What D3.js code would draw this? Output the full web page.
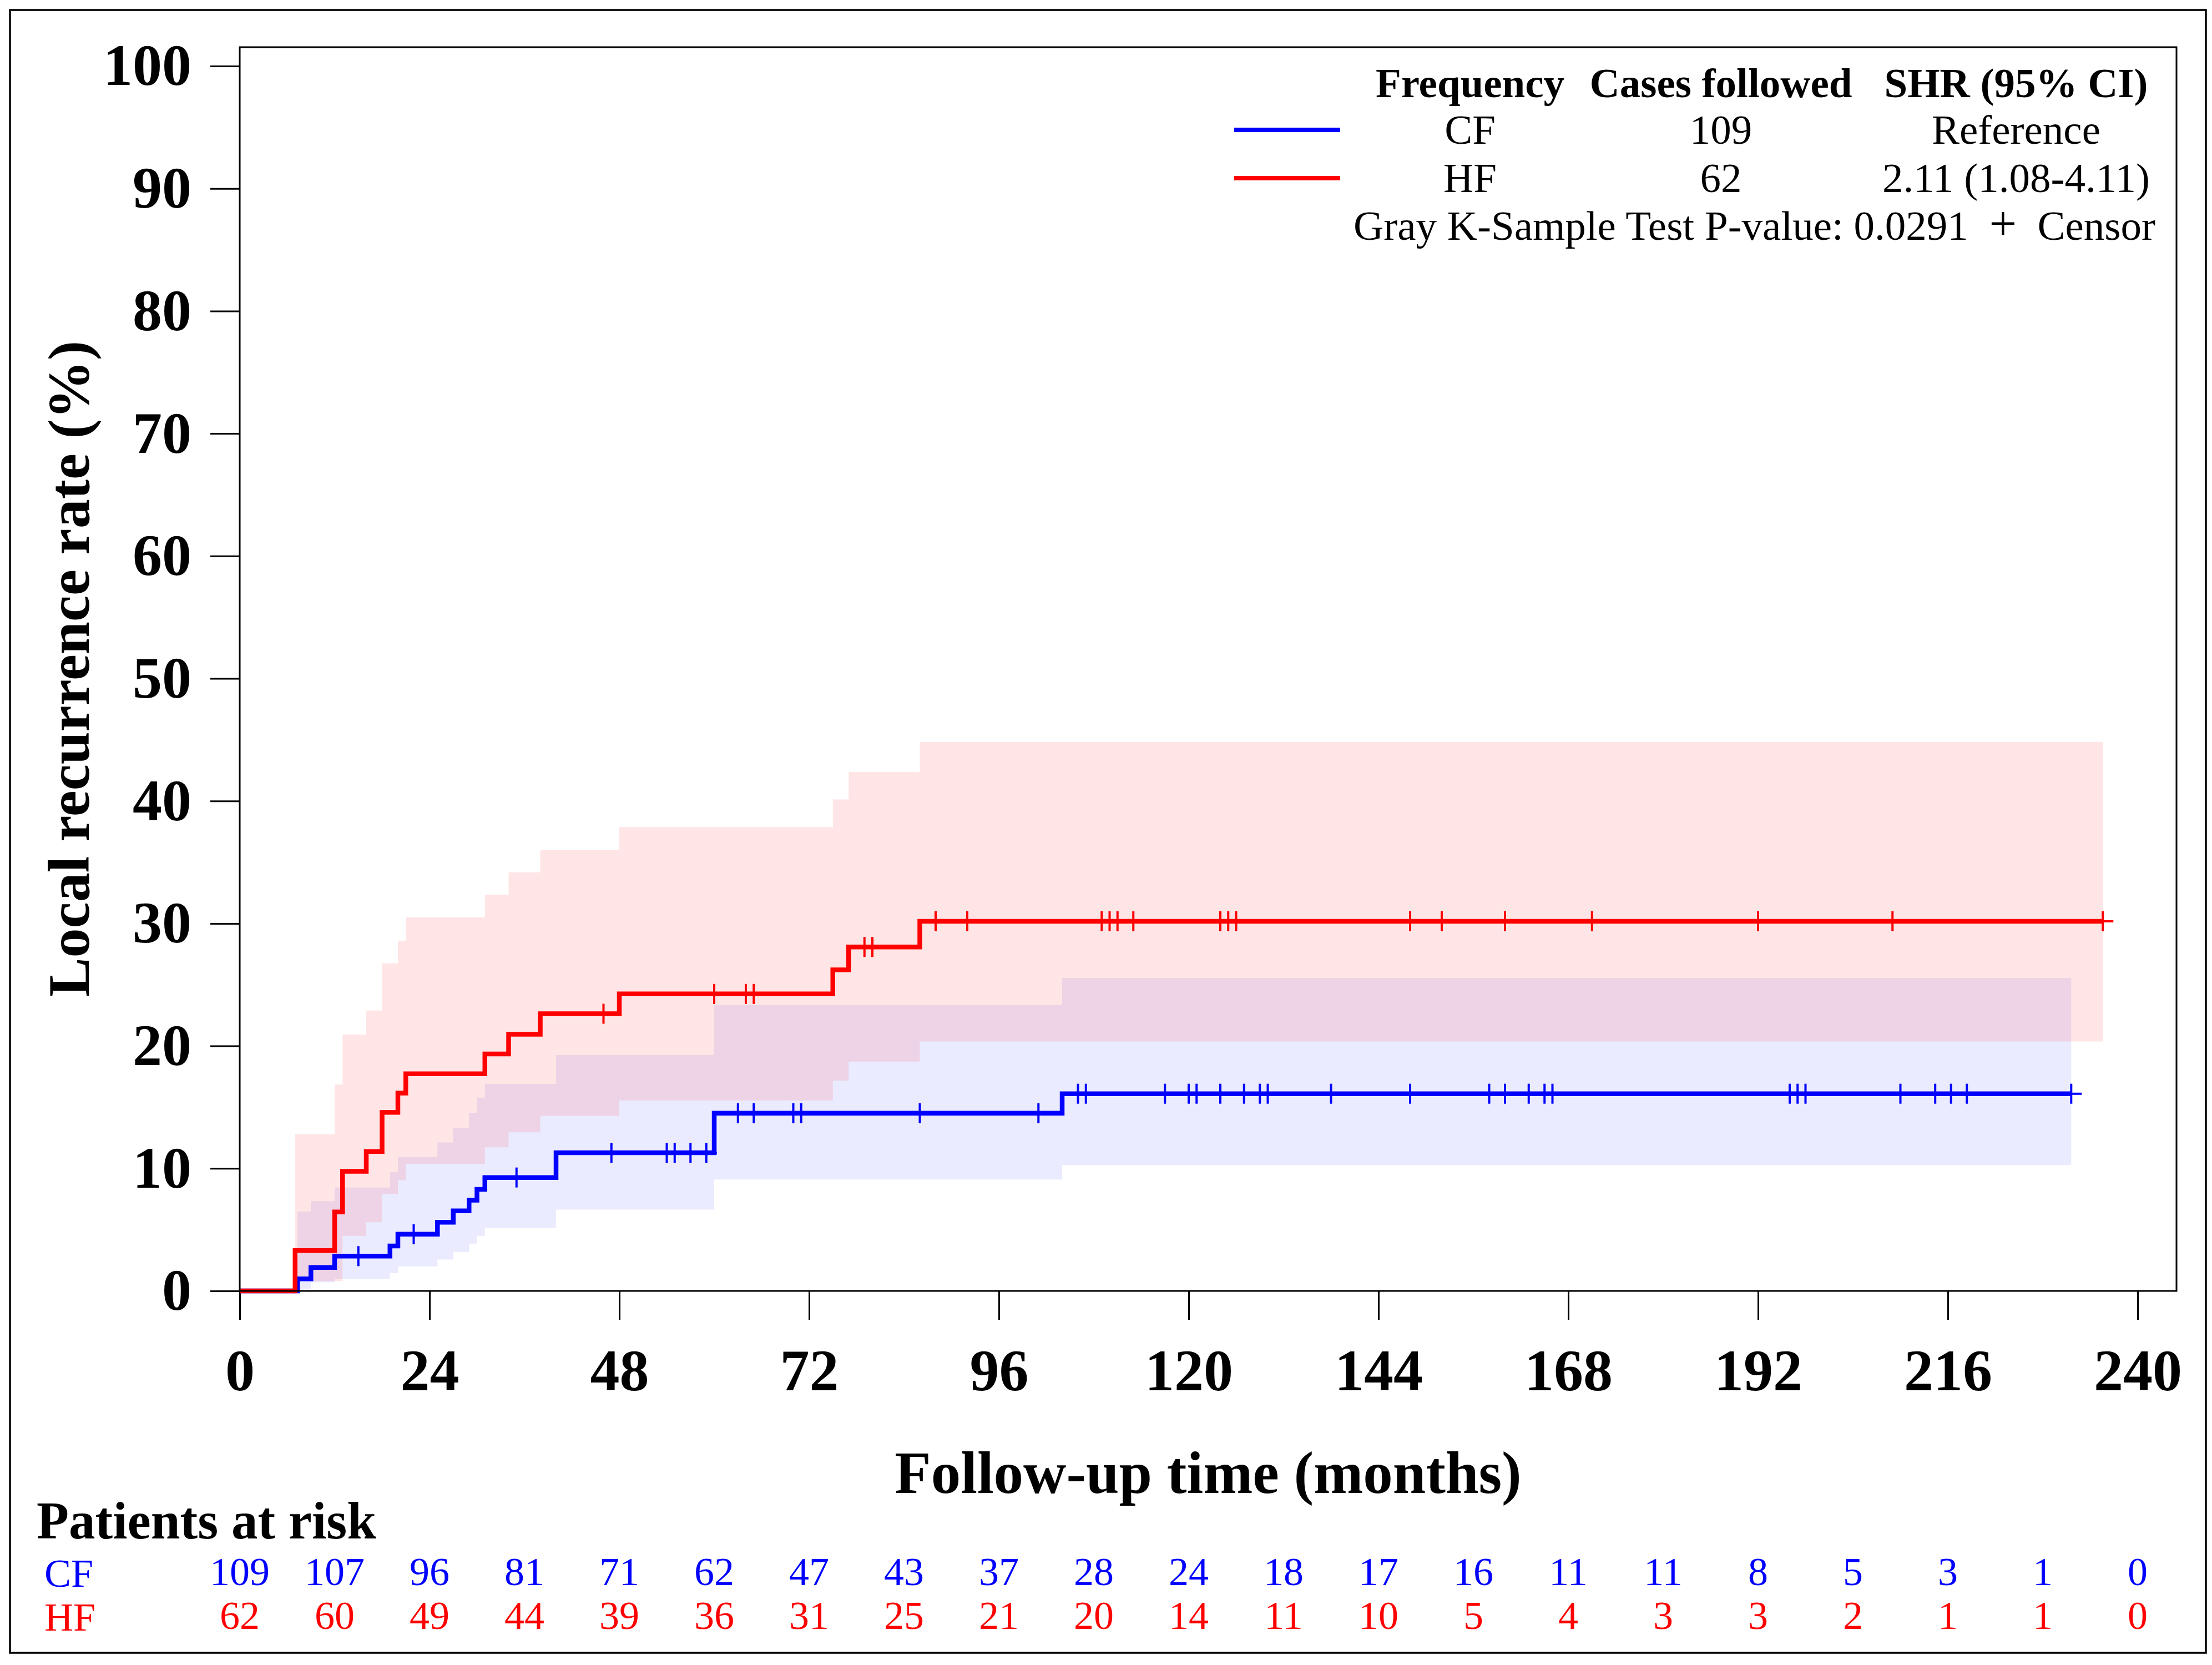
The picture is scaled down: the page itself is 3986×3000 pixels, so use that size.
<!DOCTYPE html>
<html lang="en">
<head>
<meta charset="utf-8">
<title>Local recurrence rate: CF vs HF</title>
<script src="https://cdn.jsdelivr.net/npm/d3@7/dist/d3.min.js"></script>
<style>
    body {
        margin: 0;
        background: #fff;
    }
    text {
        font-family: "Liberation Serif", "Times New Roman", serif;
    }
    .axis text {
        font-size: 106px;
        font-weight: bold;
        fill: #000;
    }
    .axis line {
        stroke: #000;
        stroke-width: 3;
    }
    .legend text {
        font-size: 75px;
        fill: #000;
    }
    .risk text {
        font-size: 72px;
    }
</style>
</head>
<body>
<svg id="chart"></svg>
<script>

    // cumulative incidence (%) steps
    const cfTime  = [0, 7.3, 9, 12, 19, 20, 25, 27, 29, 30, 31, 40, 60, 104]
    const cfRate  = [0, 0.99, 1.91, 2.84, 3.67, 4.63, 5.61, 6.54, 7.41, 8.29, 9.26, 11.28, 14.51, 16.1]
    const cfUpper = [0, 6.48, 7.33, 8.44, 9.68, 10.94, 12.12, 13.32, 14.54, 15.78, 16.9, 19.26, 23.33, 25.55]
    const cfLower = [0, 0.16, 0.7, 0.99, 1.45, 2.0, 2.56, 3.17, 3.86, 4.5, 5.15, 6.64, 9.1, 10.27]
    const cfEnd = 231.6
    const cfCensor = [15, 22, 35, 47, 54, 55, 57, 59, 63, 65, 70, 71, 86, 101, 106, 107, 117, 120, 121, 124,
                      127, 129, 130, 138, 148, 158, 160, 163, 165, 166, 196, 197, 198, 210, 214.4, 216.4, 218.4, 231.6]

    const hfTime  = [0, 7, 12, 13, 16, 18, 20, 21, 31, 34, 38, 48, 75, 77, 86]
    const hfRate  = [0, 3.3, 6.45, 9.77, 11.38, 14.58, 16.15, 17.73, 19.35, 20.96, 22.63, 24.25, 26.21, 28.08, 30.18]
    const hfUpper = [0, 12.8, 16.86, 20.92, 22.89, 26.75, 28.6, 30.5, 32.35, 34.17, 36.02, 37.87, 40.12, 42.36, 44.82]
    const hfLower = [0, 0.8, 0.8, 4.5, 5.61, 7.92, 9.03, 10.38, 11.72, 12.95, 14.3, 15.55, 17.17, 18.73, 20.37]
    const hfEnd = 235.6
    const hfCensor = [46, 60, 64, 65, 79, 80, 88, 92, 109, 110, 111, 113, 124, 125, 126, 148, 152, 160, 171, 192, 209, 235.6]

    const xTicks = [0, 24, 48, 72, 96, 120, 144, 168, 192, 216, 240]
    const yTicks = [0, 10, 20, 30, 40, 50, 60, 70, 80, 90, 100]

    const riskTimes = [0, 12, 24, 36, 48, 60, 72, 84, 96, 108, 120, 132, 144, 156, 168, 180, 192, 204, 216, 228, 240]
    const cfRisk = [109, 107, 96, 81, 71, 62, 47, 43, 37, 28, 24, 18, 17, 16, 11, 11, 8, 5, 3, 1, 0]
    const hfRisk = [62, 60, 49, 44, 39, 36, 31, 25, 21, 20, 14, 11, 10, 5, 4, 3, 3, 2, 1, 1, 0]

    const legendHead = ["Frequency", "Cases followed", "SHR (95% CI)"]
    const legendRows = [["CF", "109", "Reference"], ["HF", "62", "2.11 (1.08-4.11)"]]

    const BLUE = "#0000ff", RED = "#ff0000"

    const width = 3986, height = 3000
    const plot = { left: 432, top: 85, right: 3922, bottom: 2326 }

    const svg = d3.select("#chart")
        .attr("width", width)
        .attr("height", height)

    // outer frame
    svg.append("rect")
        .attr("x", 18).attr("y", 18)
        .attr("width", 3957).attr("height", 2960)
        .attr("fill", "none").attr("stroke", "#000").attr("stroke-width", 3.5)

    const x = d3.scaleLinear().domain([0, 240]).range([plot.left, 3852])
    const y = d3.scaleLinear().domain([0, 100]).range([plot.bottom, 119])

    function steps(times, vals, end) {
        const pts = times.map((t, i) => [t, vals[i]])
        pts.push([end, vals[vals.length - 1]])
        return pts
    }
    function bandSteps(times, lo, hi, end) {
        const pts = times.map((t, i) => [t, lo[i], hi[i]])
        pts.push([end, lo[lo.length - 1], hi[hi.length - 1]])
        return pts
    }
    function valueAt(times, vals, t) {
        return vals[d3.bisectRight(times, t) - 1]
    }

    const line = d3.line().curve(d3.curveStepAfter).x(d => x(d[0])).y(d => y(d[1]))
    const area = d3.area().curve(d3.curveStepAfter)
        .x(d => x(d[0])).y0(d => y(d[1])).y1(d => y(d[2]))

    const series = [
        { name: "CF", color: BLUE, time: cfTime, rate: cfRate, lo: cfLower, hi: cfUpper, end: cfEnd, censor: cfCensor },
        { name: "HF", color: RED, time: hfTime, rate: hfRate, lo: hfLower, hi: hfUpper, end: hfEnd, censor: hfCensor }
    ]

    // confidence bands (HF drawn over CF)
    svg.append("g").selectAll("path")
        .data(series)
        .join("path")
        .attr("d", s => area(bandSteps(s.time, s.lo, s.hi, s.end)))
        .attr("fill", s => s.color)
        .attr("fill-opacity", s => s.name == "HF" ? 0.1 : 0.08)

    // axes
    svg.append("g")
        .attr("class", "axis")
        .attr("transform", "translate(" + plot.left + ",0)")
        .call(d3.axisLeft(y).tickValues(yTicks).tickSize(53).tickPadding(34).tickSizeOuter(0))
        .call(g => g.select(".domain").remove())

    svg.append("g")
        .attr("class", "axis")
        .attr("transform", "translate(0," + plot.bottom + ")")
        .call(d3.axisBottom(x).tickValues(xTicks).tickSize(52).tickPadding(52).tickSizeOuter(0))
        .call(g => g.select(".domain").remove())

    // curves
    const curves = svg.append("g")
    series.forEach(s => {
        curves.append("path")
            .attr("d", line(steps(s.time, s.rate, s.end)))
            .attr("fill", "none")
            .attr("stroke", s.color)
            .attr("stroke-width", 8.5)

        const marks = curves.append("g").selectAll("g")
            .data(s.censor)
            .join("g")
            .attr("transform", t => "translate(" + x(t) + "," + y(valueAt(s.time, s.rate, t)) + ")")
        marks.append("line")
            .attr("y1", -18).attr("y2", 18)
            .attr("stroke", s.color).attr("stroke-width", 4)
        marks.append("line")
            .attr("x1", -19).attr("x2", 19)
            .attr("stroke", s.color).attr("stroke-width", 4)
    })

    // plot box
    svg.append("rect")
        .attr("x", plot.left).attr("y", plot.top)
        .attr("width", plot.right - plot.left).attr("height", plot.bottom - plot.top)
        .attr("fill", "none").attr("stroke", "#000").attr("stroke-width", 3)

    // axis titles
    svg.append("text")
        .attr("transform", "translate(160,1205) rotate(-90)")
        .attr("text-anchor", "middle")
        .attr("font-size", 106).attr("font-weight", "bold")
        .text("Local recurrence rate (%)")

    svg.append("text")
        .attr("x", (plot.left + plot.right) / 2).attr("y", 2690)
        .attr("text-anchor", "middle")
        .attr("font-size", 107).attr("font-weight", "bold")
        .text("Follow-up time (months)")

    // legend
    const cols = [2649, 3101, 3633]
    const legend = svg.append("g").attr("class", "legend")
    legend.selectAll(".head")
        .data(legendHead)
        .join("text")
        .attr("class", "head")
        .attr("x", (d, i) => cols[i]).attr("y", 175)
        .attr("text-anchor", "middle")
        .attr("font-weight", "bold")
        .text(d => d)

    const rowY = [259, 346]
    legendRows.forEach((row, r) => {
        legend.append("line")
            .attr("x1", 2224).attr("x2", 2415)
            .attr("y1", rowY[r] - 25).attr("y2", rowY[r] - 25)
            .attr("stroke", series[r].color).attr("stroke-width", 8)
        legend.selectAll(".row" + r)
            .data(row)
            .join("text")
            .attr("class", "row" + r)
            .attr("x", (d, i) => cols[i]).attr("y", rowY[r])
            .attr("text-anchor", "middle")
            .text(d => d)
    })

    const pval = legend.append("text")
        .attr("x", 3884).attr("y", 432)
        .attr("text-anchor", "end")
    pval.append("tspan").text("Gray K-Sample Test P-value: 0.0291\u2002")
    pval.append("tspan").attr("font-size", 88).attr("font-weight", 300).text("+")
    pval.append("tspan").text("\u2002Censor")

    // patients at risk
    svg.append("text")
        .attr("x", 66).attr("y", 2772)
        .attr("font-size", 95).attr("font-weight", "bold")
        .text("Patients at risk")

    const risk = svg.append("g").attr("class", "risk")
    const riskRows = [
        { label: "CF", color: BLUE, vals: cfRisk, y: 2856 },
        { label: "HF", color: RED, vals: hfRisk, y: 2935 }
    ]
    riskRows.forEach(r => {
        risk.append("text")
            .attr("x", 80).attr("y", r.y + 3)
            .attr("fill", r.color)
            .text(r.label)
        risk.append("g").selectAll("text")
            .data(r.vals)
            .join("text")
            .attr("x", (d, i) => x(riskTimes[i])).attr("y", r.y)
            .attr("text-anchor", "middle")
            .attr("fill", r.color)
            .text(d => d)
    })

</script>
</body>
</html>
